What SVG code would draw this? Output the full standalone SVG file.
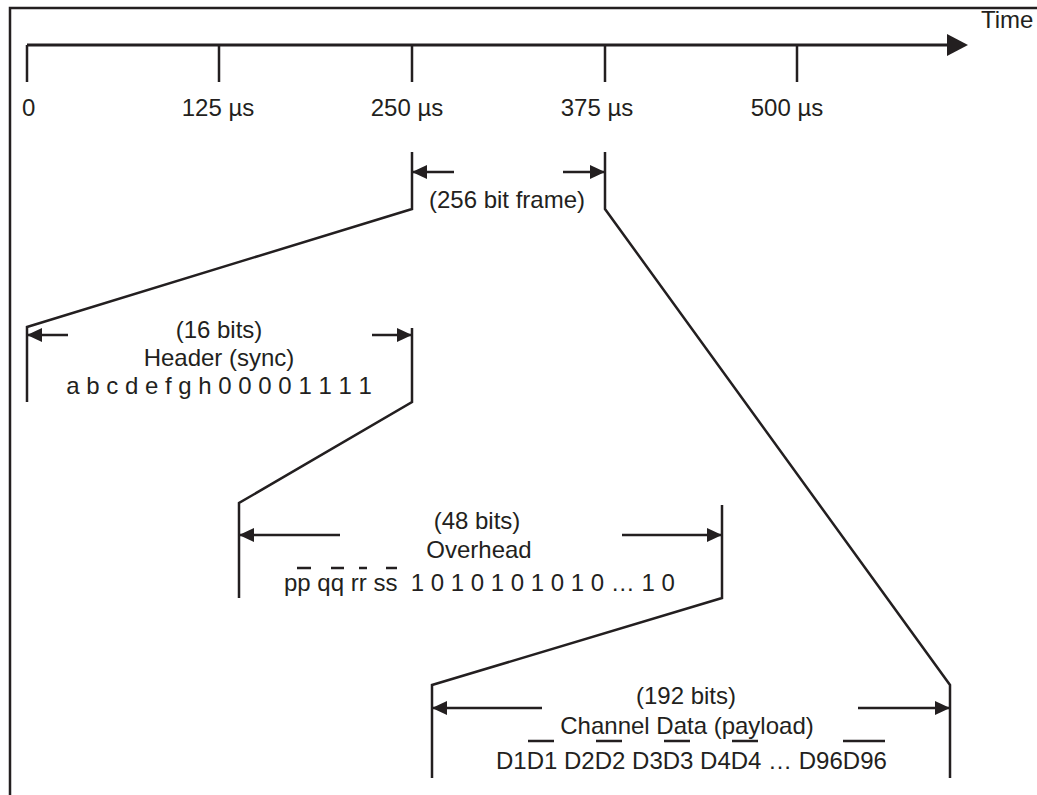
<svg xmlns="http://www.w3.org/2000/svg" width="1037" height="795" viewBox="0 0 1037 795">
<style>
.ln{fill:none;stroke:#231f20;stroke-width:2.5;stroke-linejoin:miter}
.ar{fill:none;stroke:#231f20;stroke-width:2.5;marker-end:url(#ah)}
.ov{stroke:#231f20;stroke-width:2.5}
text{font-family:"Liberation Sans",Arial,sans-serif;font-size:24px;fill:#231f20}
.m{text-anchor:middle}
</style>
<defs>
<marker id="ah" markerUnits="userSpaceOnUse" markerWidth="16" markerHeight="16" refX="15" refY="7" orient="auto">
<path d="M0,0 L15,7 L0,14 z" fill="#231f20"/>
</marker>
</defs>
<rect width="1037" height="795" fill="#fff"/>
<path d="M10,795 V8 H1037" class="ln"/>
<g id="axis">
<line x1="27" y1="45" x2="950" y2="45" stroke="#231f20" stroke-width="3"/>
<path d="M947,34 L968,45 L947,56 z" fill="#231f20"/>
<path d="M27,45V82 M219,45V82 M412,45V82 M605,45V82 M797,45V82" class="ln"/>
<text x="22" y="116">0</text>
<text class="m" x="218" y="116">125 µs</text>
<text class="m" x="407" y="116">250 µs</text>
<text class="m" x="597" y="116">375 µs</text>
<text class="m" x="787" y="116">500 µs</text>
<text x="981" y="28">Time</text>
</g>
<g id="frame">
<line class="ar" x1="454" y1="172" x2="412" y2="172"/>
<line class="ar" x1="563" y1="172" x2="605" y2="172"/>
<text class="m" x="507" y="208">(256 bit frame)</text>
</g>
<g id="header">
<line class="ar" x1="68" y1="335" x2="27" y2="335"/>
<line class="ar" x1="372" y1="335" x2="412" y2="335"/>
<text class="m" x="219" y="338">(16 bits)</text>
<text class="m" x="219" y="366">Header (sync)</text>
<text class="m" x="219" y="394">a b c d e f g h 0 0 0 0 1 1 1 1</text>
</g>
<g id="overhead">
<line class="ar" x1="340" y1="535" x2="239" y2="535"/>
<line class="ar" x1="622" y1="535" x2="722" y2="535"/>
<text class="m" x="477" y="529">(48 bits)</text>
<text class="m" x="479" y="558">Overhead</text>
<text x="284" y="591" xml:space="preserve">pp qq rr ss  1 0 1 0 1 0 1 0 1 0 … 1 0</text>
<path class="ov" d="M297,568H311 M331,568H344 M359,568H367 M386,568H397"/>
</g>
<g id="payload">
<line class="ar" x1="542" y1="708" x2="432" y2="708"/>
<line class="ar" x1="858" y1="708" x2="950" y2="708"/>
<text class="m" x="686" y="704">(192 bits)</text>
<text class="m" x="687" y="734">Channel Data (payload)</text>
<text x="496" y="769">D1D1 D2D2 D3D3 D4D4 … D96D96</text>
<path class="ov" d="M528,741H554 M596,741H622 M664,741H690 M732,741H758 M843,741H885"/>
</g>
<g id="connectors">
<path class="ln" d="M412,152 V209 L27,327 V402"/>
<path class="ln" d="M605,152 V209 L950,685 V778"/>
<path class="ln" d="M412,328 V402 L239,503 V598"/>
<path class="ln" d="M722,505 V598 L432,685 V778"/>
</g>
</svg>
